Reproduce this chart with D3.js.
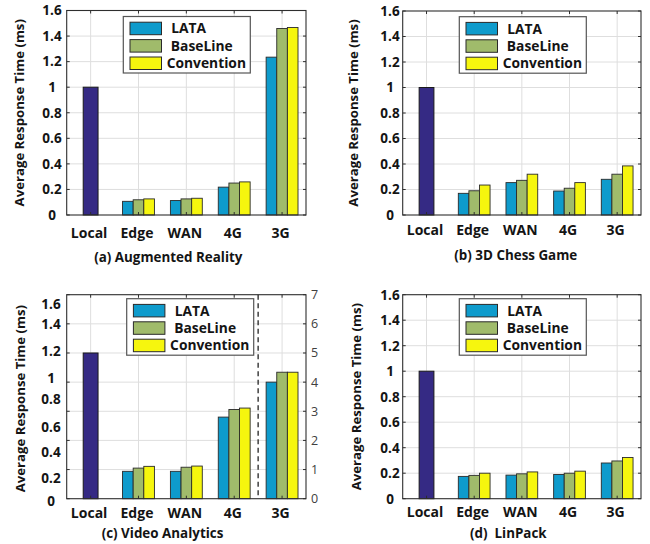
<!DOCTYPE html>
<html><head><meta charset="utf-8">
<script src="https://cdn.jsdelivr.net/npm/d3@7"></script>
<style>
body{margin:0;background:#fff;}
svg{display:block;}
text{font-family:"Open Sans","Noto Sans",sans-serif;fill:#141414;white-space:pre;}
</style></head>
<body><svg id="chart" width="650" height="544"></svg>
<script>
// ---------- data ----------
const categories = ["Local","Edge","WAN","4G","3G"];
const seriesNames = ["LATA","BaseLine","Convention"];
const yTicks = [0,0.2,0.4,0.6,0.8,1,1.2,1.4,1.6];

// (a) Augmented Reality
const localA = 1.0;
const lataA = [0.107,0.113,0.218,1.235];
const baseA = [0.119,0.126,0.250,1.459];
const convA = [0.126,0.131,0.259,1.467];
// (b) 3D Chess Game
const localB = 1.0;
const lataB = [0.170,0.254,0.188,0.280];
const baseB = [0.190,0.272,0.210,0.320];
const convB = [0.235,0.320,0.254,0.385];
// (c) Video Analytics (values in right-axis units, 0-7)
const localC = 5.0;
const lataC = [0.94,0.94,2.80,4.00];
const baseC = [1.05,1.08,3.06,4.34];
const convC = [1.11,1.12,3.11,4.34];
const rightTicksC = [0,1,2,3,4,5,6,7];
const leftLabelsC = [0,0.2,0.4,0.6,0.8,1,1.2,1.4,1.6];
const leftLabelPosC = [-0.08,0.70,1.61,2.45,3.42,4.13,5.07,5.98,6.67]; // where each left label sits, in right-axis units
// (d) LinPack
const localD = 1.0;
const lataD = [0.175,0.185,0.190,0.280];
const baseD = [0.183,0.195,0.200,0.296];
const convD = [0.200,0.210,0.216,0.323];

const titles = ["(a) Augmented Reality","(b) 3D Chess Game","(c) Video Analytics","(d)  LinPack"];
const yLabel = "Average Response Time (ms)";

// ---------- style ----------
const colors = {LATA:"#0e9bcc", BaseLine:"#a0bb6b", Convention:"#f6f60e", Local:"#352a84"};
const svg = d3.select("#chart");

const panels = [
  {left:66.7, right:306, top:10.5, bottom:215, ymax:1.6, local:localA, s:[lataA,baseA,convA],
   tickCx:14.7, ylabX:47.4, xlabDy:18.3, titleX:101.6, titleY:256.7, legX:56.6, legY:6},
  {left:402.7, right:641, top:11, bottom:215, ymax:1.6, local:localB, s:[lataB,baseB,convB],
   tickCx:12.7, ylabX:49.4, xlabDy:15, titleX:113.1, titleY:255, legX:56.6, legY:5.7},
  {left:66.7, right:306, top:294.7, bottom:498.7, ymax:7, local:localC, s:[lataC,baseC,convC],
   tickCx:15.7, ylabX:46.7, xlabDy:14, titleX:95.8, titleY:533, legX:60, legY:4, special:true},
  {left:402.7, right:641, top:294.7, bottom:498.7, ymax:1.6, local:localD, s:[lataD,baseD,convD],
   tickCx:12.7, ylabX:46, xlabDy:13.3, titleX:105.6, titleY:532.7, legX:56.6, legY:4}
];

const fmt = d => d===0 ? "0" : (d===1 ? "1" : d.toFixed(1));

panels.forEach((p,pi)=>{
  const g = svg.append("g");
  const x = d3.scaleLinear().domain([0.5,5.5]).range([p.left,p.right]);
  const y = d3.scaleLinear().domain([0,p.ymax]).range([p.bottom,p.top]);
  const gridVals = p.special ? rightTicksC : yTicks;

  // grid
  g.selectAll(".hg").data(gridVals.filter(v=>v>0 && v<p.ymax)).enter().append("line")
    .attr("x1",p.left).attr("x2",p.right).attr("y1",d=>y(d)).attr("y2",d=>y(d))
    .attr("stroke","#dedede").attr("stroke-width",1);
  g.selectAll(".vg").data(categories).enter().append("line")
    .attr("x1",(d,i)=>x(i+1)).attr("x2",(d,i)=>x(i+1)).attr("y1",p.top).attr("y2",p.bottom)
    .attr("stroke","#dedede").attr("stroke-width",1);

  // local bar
  const lw = 0.31;
  g.append("rect").attr("x",x(1-lw/2)).attr("width",x(1+lw/2)-x(1-lw/2))
    .attr("y",y(p.local)).attr("height",y(0)-y(p.local))
    .attr("fill",colors.Local).attr("stroke","#1a1a1a").attr("stroke-width",1);

  // grouped bars
  const bw = 0.222, offs=[-0.222,0,0.222];
  seriesNames.forEach((sn,si)=>{
    g.selectAll(".b"+si).data(p.s[si]).enter().append("rect")
      .attr("x",(d,i)=>x(i+2+offs[si]-bw/2))
      .attr("width",x(bw)-x(0))
      .attr("y",d=>y(d)).attr("height",d=>y(0)-y(d))
      .attr("fill",colors[sn]).attr("stroke","#2a2a2a").attr("stroke-width",0.9);
  });

  // dashed separator for (c)
  if(p.special){
    g.append("line").attr("x1",x(4.5)).attr("x2",x(4.5)).attr("y1",p.top).attr("y2",p.bottom)
      .attr("stroke","#333").attr("stroke-width",1.4).attr("stroke-dasharray","5,3.5");
  }

  // box and inward ticks
  g.append("rect").attr("x",p.left).attr("y",p.top).attr("width",p.right-p.left).attr("height",p.bottom-p.top)
    .attr("fill","none").attr("stroke","#2e2e2e").attr("stroke-width",1.1);
  const tl=3;
  gridVals.forEach(v=>{
    g.append("line").attr("x1",p.left).attr("x2",p.left+tl).attr("y1",y(v)).attr("y2",y(v)).attr("stroke","#2e2e2e");
    g.append("line").attr("x1",p.right).attr("x2",p.right-tl).attr("y1",y(v)).attr("y2",y(v)).attr("stroke","#2e2e2e");
  });
  categories.forEach((c,i)=>{
    g.append("line").attr("x1",x(i+1)).attr("x2",x(i+1)).attr("y1",p.top).attr("y2",p.top+tl).attr("stroke","#2e2e2e");
    g.append("line").attr("x1",x(i+1)).attr("x2",x(i+1)).attr("y1",p.bottom).attr("y2",p.bottom-tl).attr("stroke","#2e2e2e");
  });

  // y tick labels
  let yl = y, yvals = yTicks;
  if(p.special){
    yl = d3.scaleLinear().domain(leftLabelsC).range(leftLabelPosC.map(v=>y(v)));
    yvals = leftLabelsC;
  }
  g.selectAll(".yt").data(yvals).enter().append("text")
    .attr("x",p.left-p.tickCx).attr("y",d=>yl(d)).attr("dy","0.36em")
    .attr("text-anchor","middle").attr("font-size",13.5).attr("font-weight",700)
    .text(fmt);

  // right axis labels for (c)
  if(p.special){
    g.selectAll(".rt").data(rightTicksC).enter().append("text")
      .attr("x",p.right+5).attr("y",d=>y(d)).attr("dy","0.36em")
      .attr("font-size",12.5).attr("font-weight",400).style("fill","#404040")
      .text(d=>d);
  }

  // x tick labels
  g.selectAll(".xt").data(categories).enter().append("text")
    .attr("x",(d,i)=>x(i+1)-1.5).attr("y",p.bottom+p.xlabDy).attr("dy","0.36em")
    .attr("text-anchor","middle").attr("font-size",14).attr("font-weight",700)
    .text(d=>d);

  // y axis label
  const cy=(p.top+p.bottom)/2 + (p.special?2:0);
  g.append("text").attr("transform",`translate(${p.left-p.ylabX},${cy}) rotate(-90)`)
    .attr("dy","0.36em").attr("text-anchor","middle").attr("font-size",13.2).attr("font-weight",700)
    .text(yLabel);

  // title
  g.append("text").attr("x",p.left+p.titleX).attr("y",p.titleY).attr("dy","0.36em")
    .attr("text-anchor","middle").attr("font-size",13.4).attr("font-weight",700)
    .text(titles[pi]);

  // legend
  const lx=p.left+p.legX, ly=p.top+p.legY;
  const lg=g.append("g").attr("transform",`translate(${lx},${ly})`);
  lg.append("rect").attr("width",127).attr("height",56.5).attr("fill","#fff")
    .attr("stroke","#555").attr("stroke-width",1.2);
  const txtX=[48,47.5,43.4];
  seriesNames.forEach((sn,si)=>{
    const ry = 5.7 + si*17.4;
    lg.append("rect").attr("x",6.7).attr("y",ry).attr("width",31.5).attr("height",12.5)
      .attr("fill",colors[sn]).attr("stroke","#2a2a2a").attr("stroke-width",1);
    lg.append("text").attr("x",txtX[si]).attr("y",ry+6.25).attr("dy","0.36em")
      .attr("font-size",13.8).attr("font-weight",700).text(sn);
  });
});
</script></body></html>
